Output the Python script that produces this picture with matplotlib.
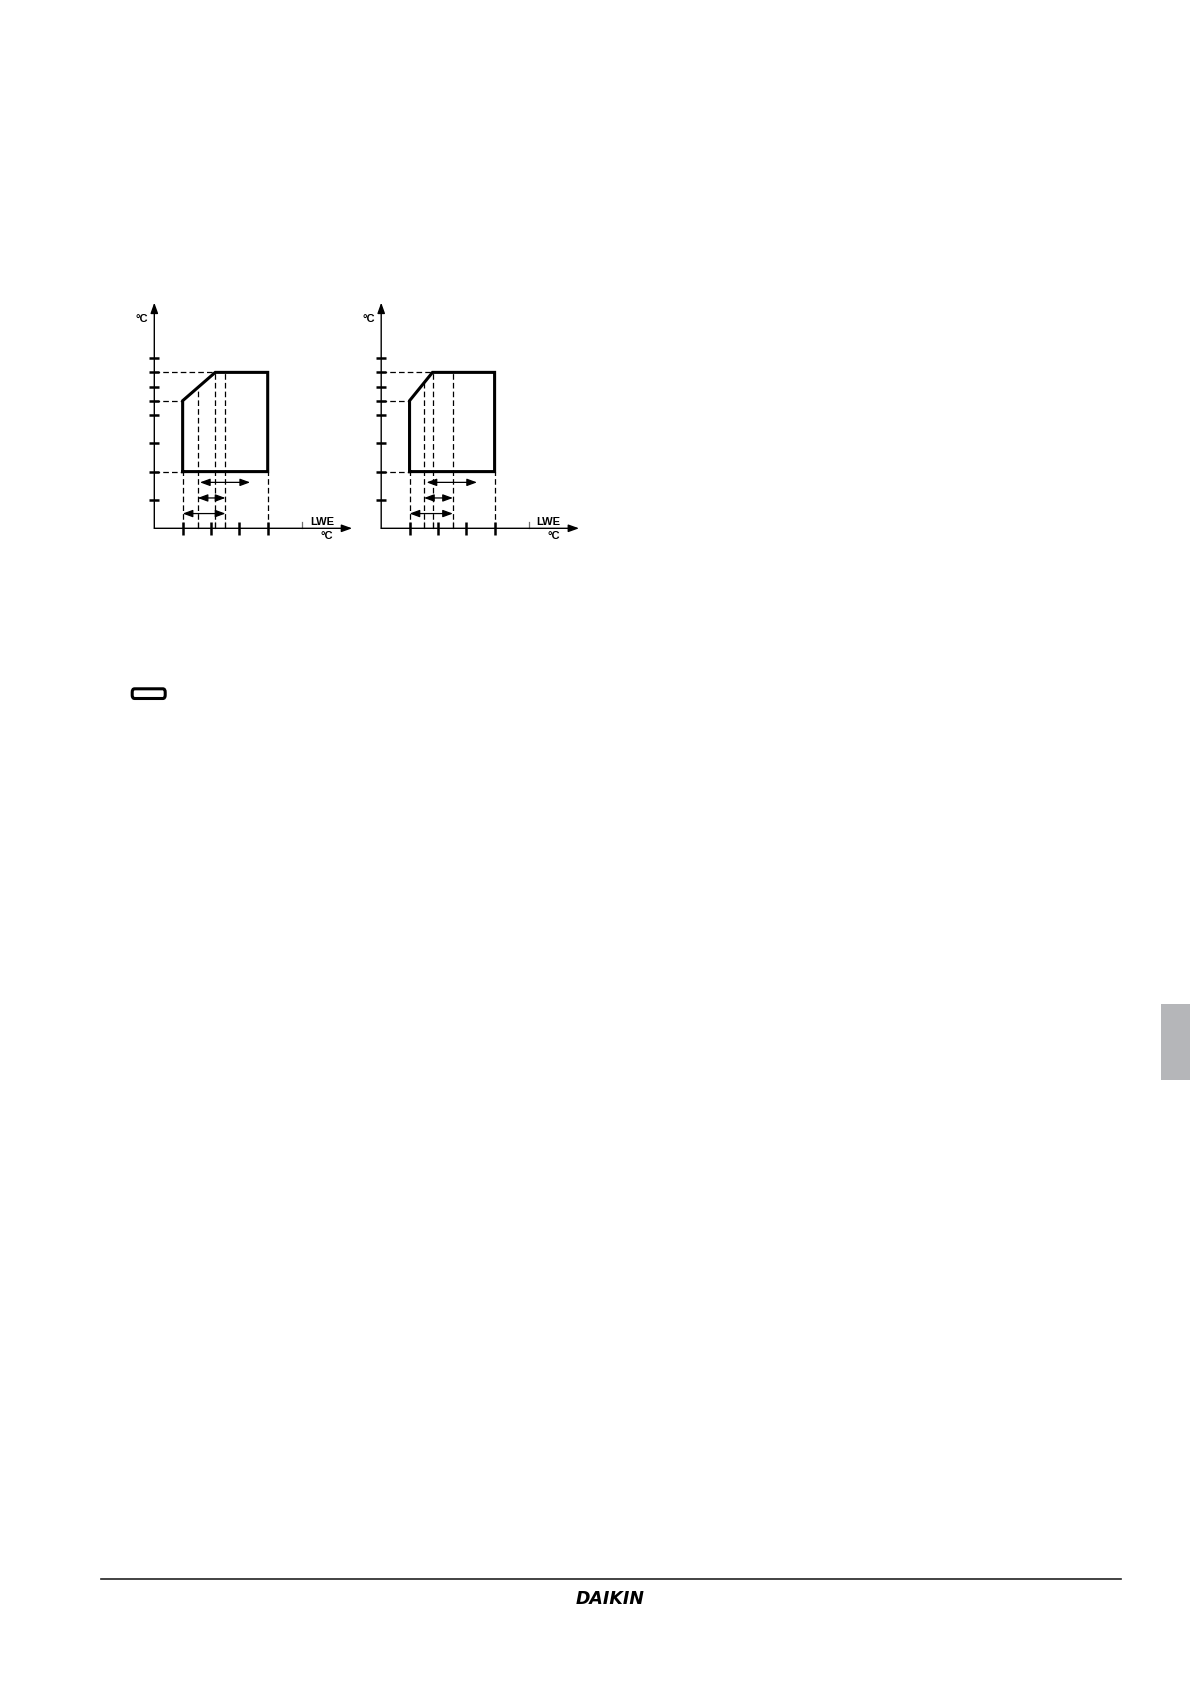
import numpy as np
import matplotlib
matplotlib.use("Agg")
import matplotlib.pyplot as plt
from matplotlib.patches import FancyBboxPatch, Rectangle
from matplotlib.lines import Line2D

plt.rcParams['font.family'] = ['Liberation Sans', 'DejaVu Sans']

# operating envelope, values in degC (tick labels are blank in the source)
y_ticks = [10, 20, 30, 40, 45, 50, 55, 60]
x_major = [10, 20, 30, 40]

env_x_a = [10, 10, 21.5, 40, 40]
env_y_a = [20, 45, 55, 55, 20]
x_minor_a = [15.3, 21.5, 25.1, 52]
ranges_a = [(16.1, 33.8), (15.3, 25.1), (10, 25.1)]

env_x_b = [10, 10, 18.1, 40, 40]
env_y_b = [20, 45, 55, 55, 20]
x_minor_b = [15.1, 18.1, 25.3, 52]
ranges_b = [(16.0, 33.8), (15.1, 25.3), (10, 25.3)]

W, H = 1190, 1684
S = 2.835  # px per degree
fig = plt.figure(figsize=(W / 100, H / 100), dpi=100)


def make_ax(x0_px, y0_px):
    xmin, xmax, ymin, ymax = -12, 75, -10, 85
    left = x0_px + xmin * S
    bottom = (H - y0_px) + ymin * S
    ax = fig.add_axes([left / W, bottom / H, (xmax - xmin) * S / W,
                       (ymax - ymin) * S / H])
    ax.set_xlim(xmin, xmax)
    ax.set_ylim(ymin, ymax)
    ax.axis("off")
    return ax


def draw_chart(ax, env_x, env_y, minor, ranges):
    k = dict(color="black", clip_on=False)
    # axes with arrow heads
    ax.annotate("", xy=(0, 79.6), xytext=(0, 0),
                arrowprops=dict(arrowstyle="-|>,head_length=0.7,head_width=0.25",
                                lw=1.0, color="black", shrinkA=0, shrinkB=0,
                                mutation_scale=9))
    ax.annotate("", xy=(69.8, 0), xytext=(0, 0),
                arrowprops=dict(arrowstyle="-|>,head_length=0.7,head_width=0.25",
                                lw=1.0, color="black", shrinkA=0, shrinkB=0,
                                mutation_scale=9))
    for yt in y_ticks:
        ax.plot([-1.8, 1.8], [yt, yt], lw=1.8, solid_capstyle="butt", **k)
    for xt in x_major:
        ax.plot([xt, xt], [-2.2, 2.3], lw=1.8, solid_capstyle="butt", **k)
    for xt in minor:
        ax.plot([xt, xt], [0, 2.3], lw=0.9, color="#707070", clip_on=False)

    # dashed guide lines
    dk = dict(color="black", lw=0.9, ls=(0, (4.5, 2.5)), clip_on=False)
    top = max(env_y)
    corner = env_x[2]
    ax.plot([0, corner], [top, top], **dk)
    ax.plot([0, env_x[0]], [env_y[1], env_y[1]], **dk)
    ax.plot([0, env_x[0]], [env_y[0], env_y[0]], **dk)
    ax.plot([env_x[0], env_x[0]], [0, env_y[0]], **dk)
    ax.plot([env_x[-1], env_x[-1]], [0, env_y[-1]], **dk)
    for xv in [minor[0], minor[1], minor[2]]:
        yv = np.interp(xv, env_x[1:4], env_y[1:4])
        ax.plot([xv, xv], [0, yv], **dk)

    # envelope
    ax.plot(env_x + [env_x[0]], env_y + [env_y[0]], color="black", lw=2.2,
            solid_joinstyle="miter", clip_on=False)

    # range arrows
    for (a, b), yy in zip(ranges, [16.2, 10.7, 5.2]):
        ax.annotate("", xy=(b, yy), xytext=(a, yy),
                    arrowprops=dict(arrowstyle="<|-|>,head_length=0.6,head_width=0.22",
                                    lw=0.9, color="black", shrinkA=0, shrinkB=0,
                                    mutation_scale=10))

    ax.text(-4.4, 73.9, "°C", ha="center", va="center", fontsize=8,
            fontweight="bold", clip_on=False)
    ax.text(63.3, 1.2, "LWE", ha="right", va="baseline", fontsize=8,
            fontweight="bold", clip_on=False)
    ax.text(62.9, -3.6, "°C", ha="right", va="baseline", fontsize=8,
            fontweight="bold", clip_on=False)


ax1 = make_ax(154.3, 528.3)
draw_chart(ax1, env_x_a, env_y_a, x_minor_a, ranges_a)
ax2 = make_ax(381.2, 528.3)
draw_chart(ax2, env_x_b, env_y_b, x_minor_b, ranges_b)

# small legend box
fig.patches.append(FancyBboxPatch((132.2 / W, 1 - 698.5 / H), 33 / W, 9.7 / H,
                                  boxstyle="round,pad=0,rounding_size=0.002",
                                  transform=fig.transFigure, fill=False,
                                  lw=2.2, edgecolor="black"))

# side tab
fig.patches.append(Rectangle((1161 / W, 1 - 1080 / H), 29 / W, 76 / H,
                             transform=fig.transFigure, color="#b5b6b9", lw=0))

# footer
fig.add_artist(Line2D([101 / W, 1121 / W], [1 - 1579 / H] * 2,
                      lw=1.2, color="#222222"))
fig.text(610 / W, 1 - 1599 / H, "DAIKIN", ha="center", va="center",
         fontsize=12.5, fontweight="bold", style="italic",
         family=["DejaVu Sans"])

fig.savefig("out.png", dpi=100)
